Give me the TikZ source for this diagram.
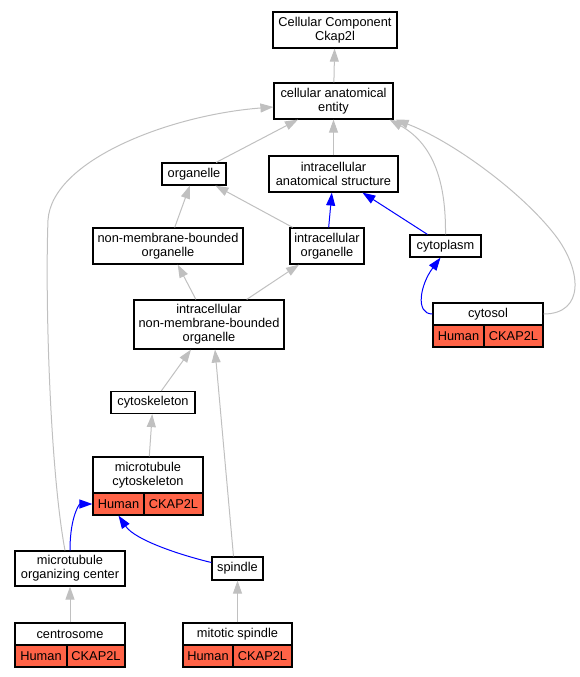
\documentclass[tikz,border=0pt]{standalone}
\usepackage{fontspec}
\setmainfont{Liberation Sans}
\usetikzlibrary{arrows.meta,calc}
\definecolor{edgegray}{RGB}{192,192,192}
\definecolor{tomatofill}{RGB}{255,99,71}
\begin{document}
\begin{tikzpicture}[x=1pt,y=-1pt,
  box/.style={draw=black, line width=1.2pt, fill=white, inner sep=0pt, align=center,
    font=\fontsize{12.8}{14}\selectfont},
  cell/.style={box, fill=tomatofill},
  ge/.style={draw=edgegray, line width=1pt, -{Triangle[length=13pt,width=9pt]}},
  be/.style={ge, draw=blue}]
\useasboundingbox (0,0) rectangle (580,677);
% nodes
\node[box, minimum width=124pt, minimum height=36pt] (cc) at (335,30) {Cellular Component\\Ckap2l};
\node[box, minimum width=119pt, minimum height=36pt] (cae) at (333.5,101) {cellular anatomical\\entity};
\node[box, minimum width=64pt, minimum height=22pt] (org) at (194,174) {organelle};
\node[box, minimum width=129pt, minimum height=36pt] (ias) at (333.5,174) {intracellular\\anatomical structure};
\node[box, minimum width=150pt, minimum height=36pt] (nmbo) at (168,246) {non-membrane-bounded\\organelle};
\node[box, minimum width=74pt, minimum height=36pt] (io) at (327,246) {intracellular\\organelle};
\node[box, minimum width=71pt, minimum height=22pt] (cyto) at (445.5,246) {cytoplasm};
\node[box, minimum width=110pt, minimum height=22pt] (cytosol) at (488,314) {cytosol};
\node[cell, minimum width=51pt, minimum height=22pt] (cytosolh) at (458.5,336) {Human};
\node[cell, minimum width=59pt, minimum height=22pt] (cytosolk) at (513.5,336) {CKAP2L};
\node[box, minimum width=150pt, minimum height=49pt] (inmbo) at (209,324.5) {intracellular\\non-membrane-bounded\\organelle};
\node[box, minimum width=84pt, minimum height=22pt] (csk) at (153,402.5) {cytoskeleton};
\node[box, minimum width=110pt, minimum height=36pt] (mc) at (148,475) {microtubule\\cytoskeleton};
\node[cell, minimum width=51pt, minimum height=22pt] (mch) at (118.5,504) {Human};
\node[cell, minimum width=59pt, minimum height=22pt] (mck) at (173.5,504) {CKAP2L};
\node[box, minimum width=51pt, minimum height=23pt] (spindle) at (237.5,568.5) {spindle};
\node[box, minimum width=110pt, minimum height=35pt] (mtoc) at (70,568.5) {microtubule\\organizing center};
\node[box, minimum width=110pt, minimum height=22pt] (centro) at (70,634) {centrosome};
\node[cell, minimum width=52pt, minimum height=22pt] (centroh) at (41,656) {Human};
\node[cell, minimum width=58pt, minimum height=22pt] (centrok) at (96,656) {CKAP2L};
\node[box, minimum width=109pt, minimum height=22pt] (ms) at (237.5,634) {mitotic spindle};
\node[cell, minimum width=50pt, minimum height=22pt] (msh) at (208,656) {Human};
\node[cell, minimum width=59pt, minimum height=22pt] (msk) at (262.5,656) {CKAP2L};
% edges
\draw[ge] (cae) -- (cc);
\draw[ge] (org) -- (cae);
\draw[ge] (ias) -- (cae);
\draw[ge] (nmbo) -- (org);
\draw[ge] (io) -- (org);
\draw[be] (io) -- (ias);
\draw[be] (cyto) -- (ias);
\draw[ge] (cyto.north) .. controls (446,185) and (435,145) .. ($(cae.south east)+(-4,0)$);
\draw[ge] (cytosol.east) .. controls (585,314) and (582,270) .. (555,235)
  .. controls (520,190) and (450,140) .. ($(cae.south east)+(2,0)$);
\draw[be] (cytosol.west) .. controls (415,314) and (420,285) .. ($(cyto.south)+(-5,0)$);
\draw[ge] (inmbo) -- (nmbo);
\draw[ge] (inmbo) -- (io);
\draw[ge] (csk) -- (inmbo);
\draw[ge] (mc) -- (csk);
\draw[ge] ($(spindle.north)+(-4,0)$) -- ($(inmbo.south)+(6,0)$);
\draw[ge] ($(mtoc.north)+(-5,0)$) .. controls (50,470) and (45,300) .. (48,220)
  .. controls (52,160) and (170,115) .. ($(cae.west)+(0,6)$);
\draw[be] (mtoc.north) .. controls (70,515) and (80,504) .. (mch.west);
\draw[be] ($(spindle.west)+(0,-6)$) .. controls (180,555) and (135,540) .. (mch.south);
\draw[ge] (centro) -- (mtoc);
\draw[ge] (ms) -- (spindle);
\end{tikzpicture}
\end{document}
